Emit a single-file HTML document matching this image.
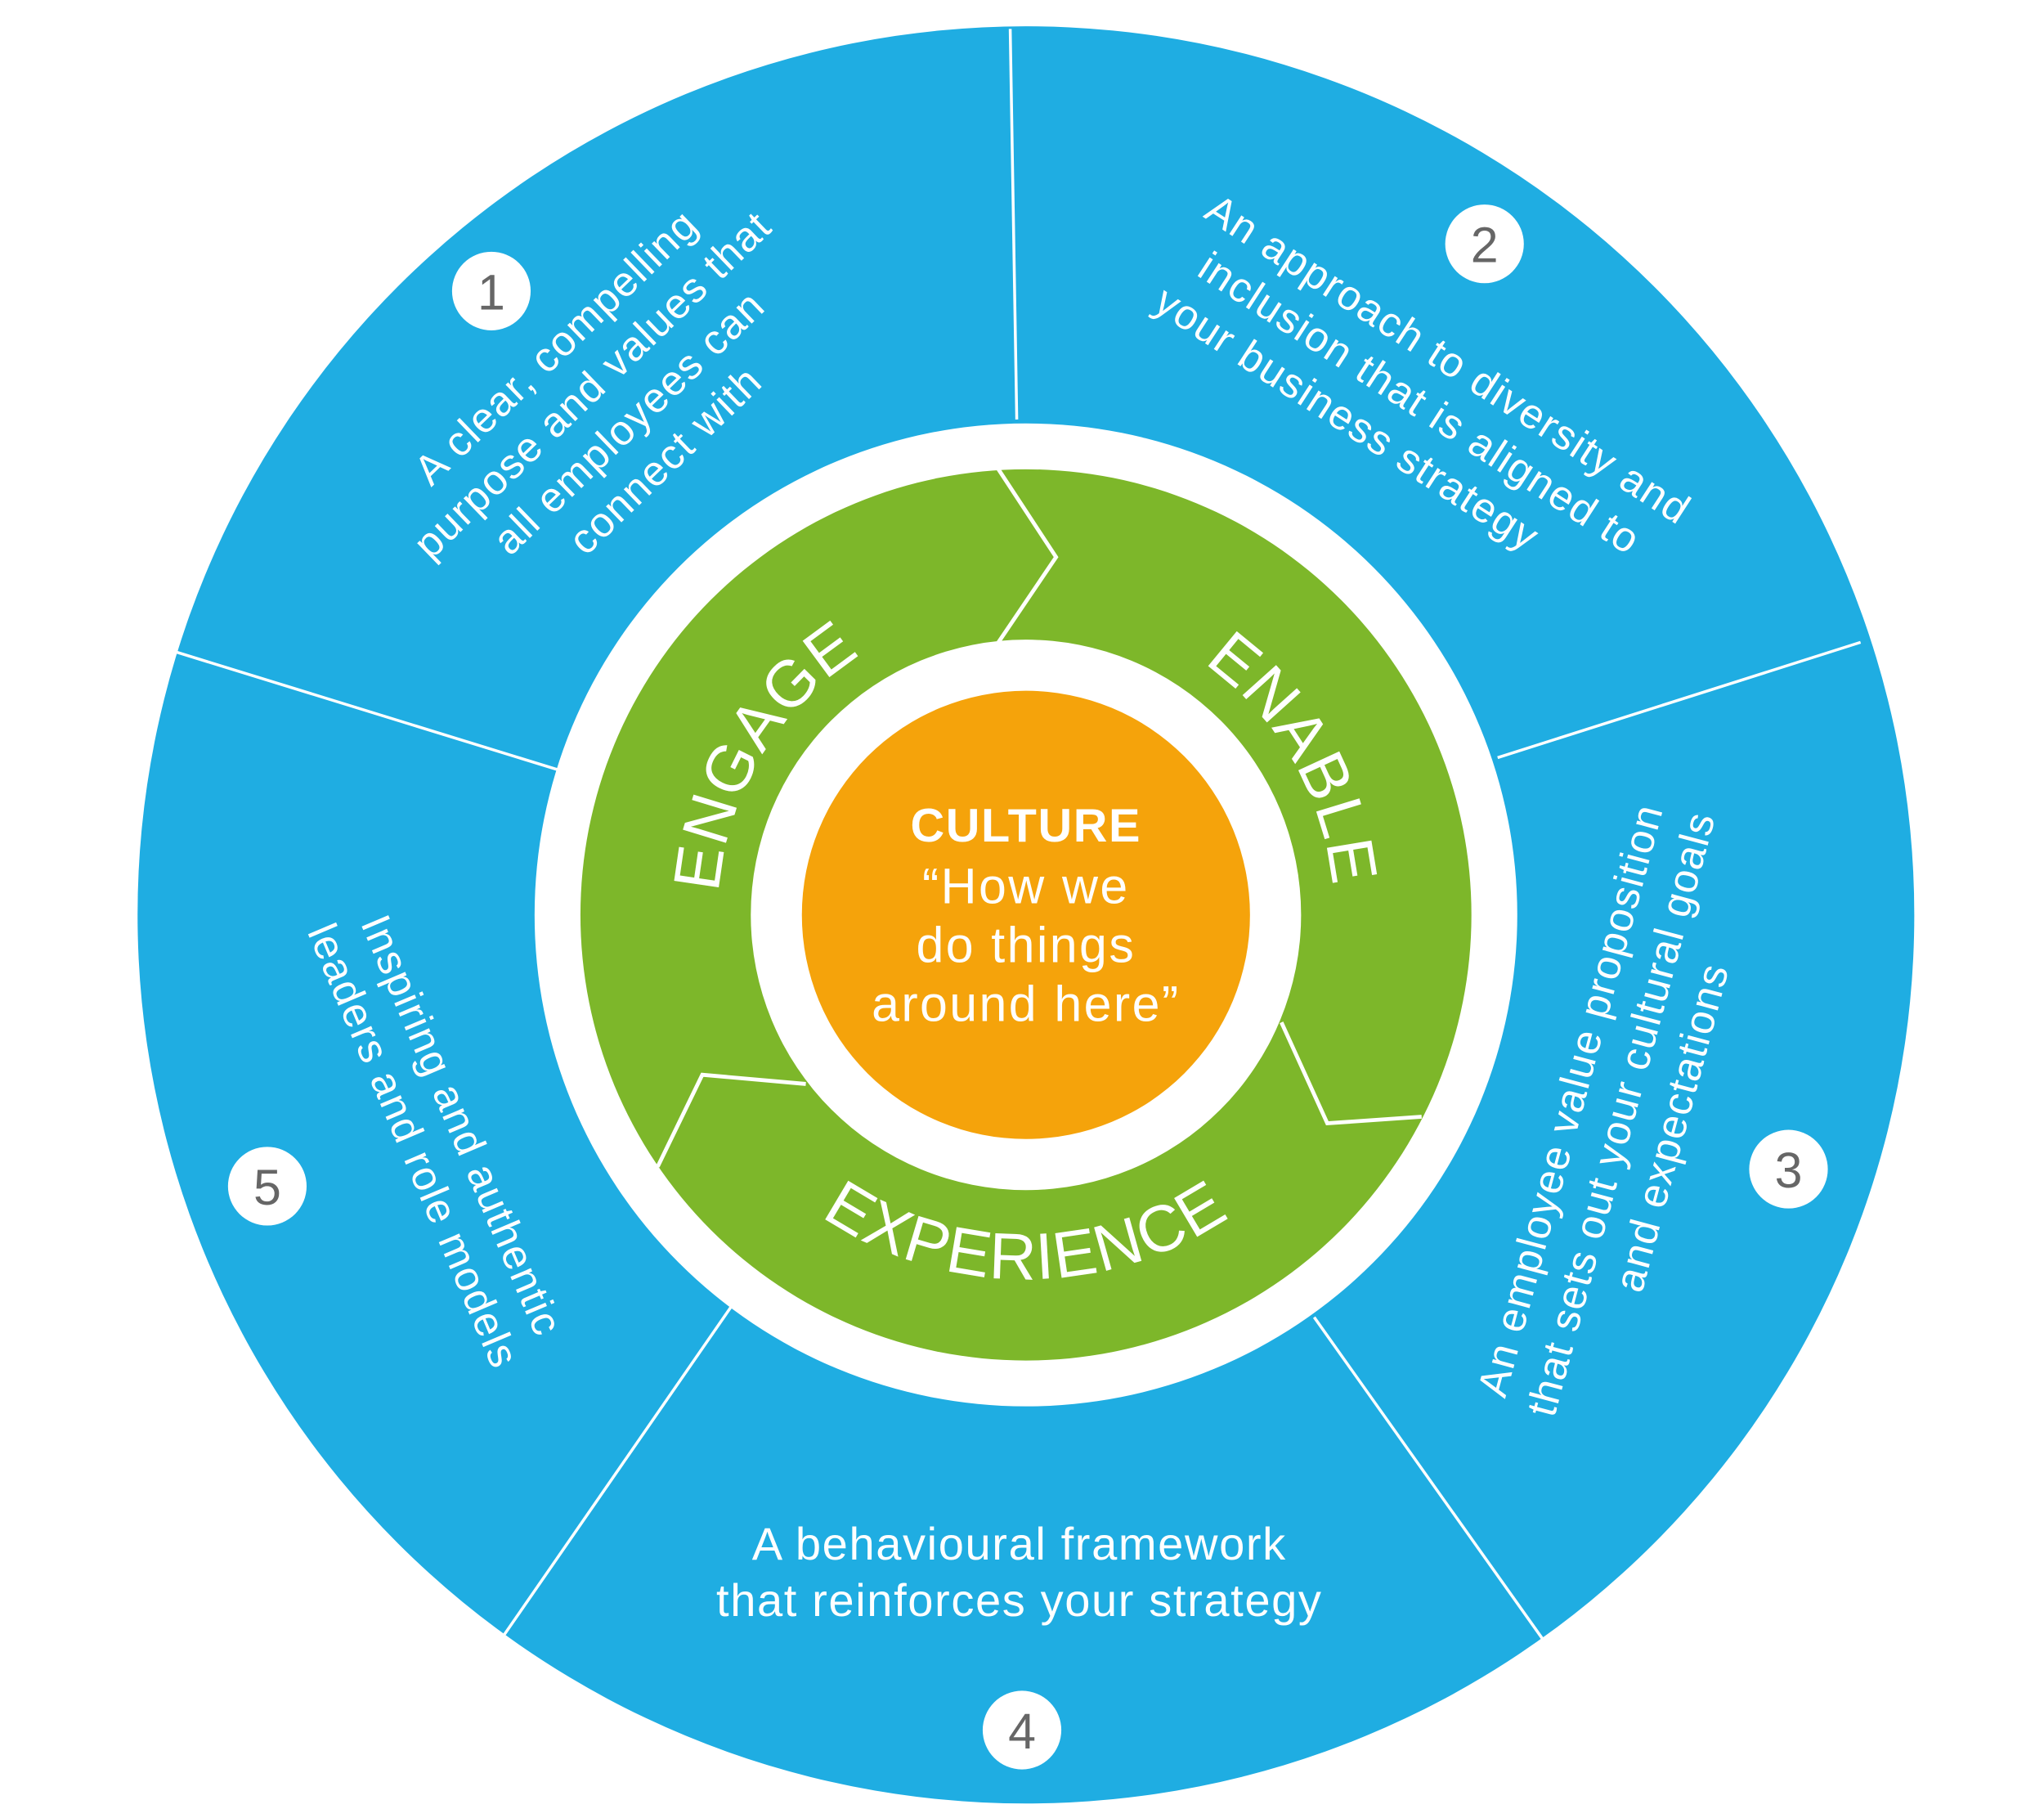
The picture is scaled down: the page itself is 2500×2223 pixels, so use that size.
<!DOCTYPE html>
<html><head><meta charset="utf-8"><style>
html,body{margin:0;padding:0;background:#fff;}
svg{display:block;}
text{font-family:"Liberation Sans","DejaVu Sans",sans-serif;}
</style></head><body>
<svg width="2500" height="2223" viewBox="0 0 1560 1387" xmlns="http://www.w3.org/2000/svg">
<defs>
<path id="topArc" d="M548,698 A235,235 0 0 1 1018,698 A235,235 0 0 1 548,698"/>
<path id="botArc" d="M505,698 A278,278 0 0 0 1061,698"/>
</defs>
<rect width="1560" height="1387" fill="#fff"/>
<circle cx="783" cy="698" r="678" fill="#1FADE2"/>
<g stroke="#fff" stroke-width="2.2">
<line x1="771" y1="22" x2="776" y2="320"/>
<line x1="1420" y1="490" x2="1143" y2="578"/>
<line x1="1177" y1="1250" x2="1003" y2="1005"/>
<line x1="385" y1="1247" x2="558" y2="997"/>
<line x1="133" y1="497" x2="425" y2="587"/>
</g>
<circle cx="783" cy="698" r="375" fill="#fff"/>
<circle cx="783" cy="698" r="340" fill="#7DB72A"/>
<g stroke="#fff" stroke-width="3" fill="none">
<polyline points="762,358 806,425 762,490"/>
<polyline points="978,780 1013,857 1085,852"/>
<polyline points="502,890 536,820 615,827"/>
</g>
<circle cx="783" cy="698" r="210" fill="#fff"/>
<circle cx="783" cy="698" r="171" fill="#F5A30B"/>
<g fill="#fff" font-size="50" letter-spacing="1">
<text><textPath href="#topArc" startOffset="8.6%" text-anchor="middle">ENGAGE</textPath></text>
<text><textPath href="#topArc" startOffset="41.67%" text-anchor="middle">ENABLE</textPath></text>
<text><textPath href="#botArc" startOffset="50%" text-anchor="middle">EXPERIENCE</textPath></text>
</g>
<g fill="#fff" text-anchor="middle" font-size="38" letter-spacing="1.5">
<text x="783" y="642" font-weight="bold" font-size="36" letter-spacing="1">CULTURE</text>
<text x="783" y="689">“How we</text>
<text x="783" y="734">do things</text>
<text x="783" y="779">around here”</text>
</g>
<g fill="#fff" font-size="32" letter-spacing="1" text-anchor="middle">
<g transform="translate(468,310) rotate(-44)">
<text x="0" y="-52">A clear, compelling</text>
<text x="0" y="-12">purpose and values that</text>
<text x="0" y="28">all employees can</text>
<text x="0" y="68">connect with</text>
</g>
<g transform="translate(1082,310) rotate(33)">
<text x="0" y="-32">An approach to diversity and</text>
<text x="0" y="8">inclusion that is aligned to</text>
<text x="-40" y="48">your business strategy</text>
</g>
<g transform="translate(1238,850) rotate(-75)">
<text x="0" y="-30">An employee value proposition</text>
<text x="0" y="10">that sets out your cultural goals</text>
<text x="0" y="50">and expectations</text>
</g>
<g transform="translate(335,866) rotate(67)">
<text x="0" y="-8">Inspiring and authentic</text>
<text x="0" y="32">leaders and role models</text>
</g>
<text x="778" y="1190" font-size="35">A behavioural framework</text>
<text x="778" y="1233" font-size="35">that reinforces your strategy</text>
</g>
<g fill="#fff">
<circle cx="375" cy="222" r="30"/><circle cx="1133" cy="186" r="30"/>
<circle cx="1365" cy="892" r="30"/><circle cx="780" cy="1320" r="30"/>
<circle cx="204" cy="905" r="30"/>
</g>
<g fill="#666" font-size="38" text-anchor="middle">
<text x="375" y="236">1</text><text x="1133" y="200">2</text>
<text x="1365" y="906">3</text><text x="780" y="1334">4</text>
<text x="204" y="919">5</text>
</g>
</svg>
</body></html>
